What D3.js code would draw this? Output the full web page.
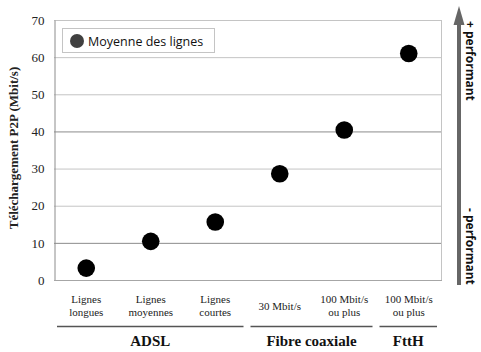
<!DOCTYPE html>
<html>
<head>
<meta charset="utf-8">
<script src="https://cdn.jsdelivr.net/npm/d3@7"></script>
<style>
  body { margin: 0; background: #fff; }
  svg { display: block; }
</style>
</head>
<body>
<script>
// data
var categories = ["Lignes longues", "Lignes moyennes", "Lignes courtes", "30 Mbit/s", "100 Mbit/s ou plus", "100 Mbit/s ou plus "];
var labelLines = [["Lignes", "longues"], ["Lignes", "moyennes"], ["Lignes", "courtes"], ["30 Mbit/s"], ["100 Mbit/s", "ou plus"], ["100 Mbit/s", "ou plus"]];
var values = [3.2, 10.4, 15.6, 28.6, 40.4, 61.0];
var groups = ["ADSL", "Fibre coaxiale", "FttH"];
var groupStart = [0, 3, 5];
var groupEnd = [2, 4, 5];
var yTicks = [0, 10, 20, 30, 40, 50, 60, 70];

var width = 481, height = 352;
var margin = {top: 20, right: 40, bottom: 72, left: 54};

var svg = d3.select("body").append("svg")
    .attr("width", width)
    .attr("height", height);

var x = d3.scaleBand().domain(categories).range([margin.left, width - margin.right]);
var y = d3.scaleLinear().domain([0, 70]).range([height - margin.bottom, margin.top]);

var serif = "'Liberation Serif', 'Times New Roman', serif";
var sans = "'Open Sans', 'Noto Sans', sans-serif";

// gridlines
svg.append("g")
  .selectAll("line")
  .data(yTicks.filter(d => d > 0))
  .enter().append("line")
    .attr("x1", x.range()[0])
    .attr("x2", x.range()[1])
    .attr("y1", d => y(d) + 0.5)
    .attr("y2", d => y(d) + 0.5)
    .attr("stroke", d => (d == 10 || d == 40) ? "#8c8c8c" : "#c4c4c4")
    .attr("stroke-width", 1);

// right border
svg.append("line")
    .attr("x1", x.range()[1] + 0.5).attr("x2", x.range()[1] + 0.5)
    .attr("y1", y(70)).attr("y2", y(0))
    .attr("stroke", "#c4c4c4");

// y axis
var yAxis = svg.append("g")
    .attr("transform", "translate(" + (margin.left + 0.5) + ",0)")
    .call(d3.axisLeft(y).tickValues(yTicks).tickSize(0).tickPadding(10));
yAxis.attr("font-family", serif).attr("font-size", 13);
yAxis.select(".domain").attr("stroke", "#8c8c8c");
yAxis.selectAll("text")
    .style("font-family", serif)
    .style("font-size", "13px")
    .attr("fill", "#222");

// bottom line
svg.append("line")
    .attr("x1", x.range()[0]).attr("x2", x.range()[1] + 1)
    .attr("y1", y(0) + 0.5).attr("y2", y(0) + 0.5)
    .attr("stroke", "#a6a6a6");

// y title
svg.append("text")
    .attr("transform", "translate(18," + 148 + ") rotate(-90)")
    .attr("text-anchor", "middle")
    .style("font-family", serif)
    .style("font-size", "13px")
    .style("font-weight", "bold")
    .attr("fill", "#222")
    .text("Téléchargement P2P (Mbit/s)");

// points
svg.append("g")
  .selectAll("circle")
  .data(values)
  .enter().append("circle")
    .attr("cx", (d, i) => x(categories[i]) + x.bandwidth() / 2)
    .attr("cy", d => y(d))
    .attr("r", 8.8)
    .attr("fill", "#000");

// category labels
var catLabel = svg.append("g")
  .selectAll("text")
  .data(labelLines)
  .enter().append("text")
    .attr("x", (d, i) => x(categories[i]) + x.bandwidth() / 2)
    .attr("y", d => d.length == 1 ? 310 : 303)
    .attr("text-anchor", "middle")
    .style("font-family", serif)
    .style("font-size", "11px")
    .attr("fill", "#222");
catLabel.selectAll("tspan")
  .data(d => d)
  .enter().append("tspan")
    .attr("x", function() { return this.parentNode.getAttribute("x"); })
    .attr("dy", (d, i) => i == 0 ? 0 : 13)
    .text(d => d);

// group lines and labels
groups.forEach(function(g, i) {
  var x0 = x(categories[groupStart[i]]) + 3;
  var x1 = x(categories[groupEnd[i]]) + x.bandwidth() - 4;
  svg.append("line")
      .attr("x1", x0).attr("x2", x1)
      .attr("y1", 326.5).attr("y2", 326.5)
      .attr("stroke", "#555")
      .attr("stroke-width", 1.5);
  svg.append("text")
      .attr("x", (x0 + x1) / 2)
      .attr("y", 346)
      .attr("text-anchor", "middle")
      .style("font-family", serif)
      .style("font-size", "15px")
      .style("font-weight", "bold")
      .attr("fill", "#111")
      .text(g);
});

// legend
var legend = svg.append("g");
legend.append("rect")
    .attr("x", 62.5).attr("y", 28.5)
    .attr("width", 152).attr("height", 24)
    .attr("fill", "#fff")
    .attr("stroke", "#c4c4c4");
legend.append("circle")
    .attr("cx", 77).attr("cy", 41)
    .attr("r", 7)
    .attr("fill", "#404040");
legend.append("text")
    .attr("x", 88).attr("y", 45.5)
    .style("font-family", sans)
    .style("font-size", "12.5px")
    .attr("fill", "#111")
    .text("Moyenne des lignes");

// performance arrow
var ax = 459;
svg.append("rect")
    .attr("x", ax - 2).attr("y", 22)
    .attr("width", 4).attr("height", 285 - 22)
    .attr("fill", "#666");
svg.append("path")
    .attr("d", d3.line()([[ax, 6], [ax + 5.5, 25], [ax - 5.5, 25]]) + "Z")
    .attr("fill", "#666");

svg.append("text")
    .attr("transform", "translate(466,21) rotate(90)")
    .style("font-family", sans)
    .style("font-size", "12px")
    .style("font-weight", "bold")
    .attr("fill", "#111")
    .text("+ performant");
svg.append("text")
    .attr("transform", "translate(466,208) rotate(90)")
    .style("font-family", sans)
    .style("font-size", "12px")
    .style("font-weight", "bold")
    .attr("fill", "#111")
    .text("- performant");
</script>
</body>
</html>
